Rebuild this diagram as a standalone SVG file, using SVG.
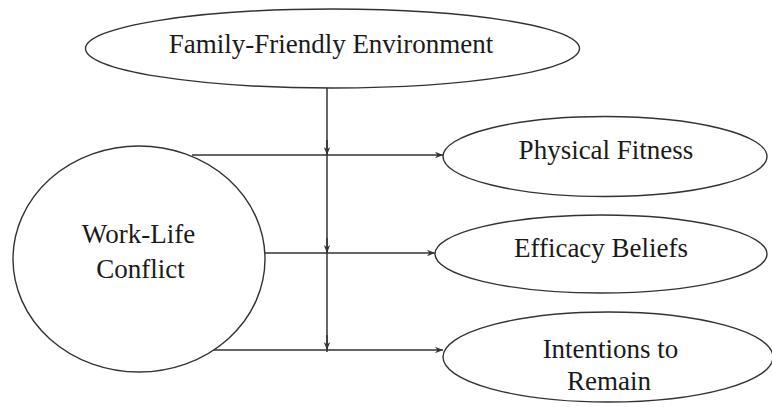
<svg xmlns="http://www.w3.org/2000/svg" width="772" height="407" viewBox="0 0 772 407">
<style>
.node{fill:#fff;stroke:#333;stroke-width:1.4}
.lbl{font-family:"Liberation Serif","Times New Roman",serif;font-size:27px;fill:#1a1a1a;text-anchor:middle}
.conn{stroke:#333;stroke-width:1.5;fill:none}
</style>
<defs>
<marker id="ah" viewBox="0 0 10 10" refX="10" refY="5" markerWidth="10" markerHeight="8" markerUnits="userSpaceOnUse" orient="auto">
<path d="M0,1 L10,5 L0,9 L3,5 Z" fill="#333"/>
</marker>
</defs>
<rect width="772" height="407" fill="#fff"/>
<g id="connectors">
<line class="conn" x1="327" y1="88" x2="327" y2="352"/>
<line class="conn" x1="327" y1="140" x2="327" y2="155" marker-end="url(#ah)"/>
<line class="conn" x1="327" y1="238" x2="327" y2="253" marker-end="url(#ah)"/>
<line class="conn" x1="327" y1="335" x2="327" y2="350" marker-end="url(#ah)"/>
<line class="conn" x1="192" y1="155" x2="443" y2="155" marker-end="url(#ah)"/>
<line class="conn" x1="265" y1="253" x2="435" y2="253" marker-end="url(#ah)"/>
<line class="conn" x1="213" y1="350" x2="443" y2="350" marker-end="url(#ah)"/>
</g>
<g id="family">
<ellipse class="node" cx="332.5" cy="48.5" rx="247" ry="39.5"/>
<text class="lbl" x="331" y="53">Family-Friendly Environment</text>
</g>
<g id="worklife">
<ellipse class="node" cx="139" cy="259" rx="126" ry="113"/>
<text class="lbl" x="138.5" y="243">Work-Life</text>
<text class="lbl" x="140.5" y="278">Conflict</text>
</g>
<g id="fitness">
<ellipse class="node" cx="605" cy="156.5" rx="162" ry="40"/>
<text class="lbl" x="606" y="159">Physical Fitness</text>
</g>
<g id="efficacy">
<ellipse class="node" cx="601" cy="254" rx="166" ry="39"/>
<text class="lbl" x="601" y="257">Efficacy Beliefs</text>
</g>
<g id="intentions">
<ellipse class="node" cx="608" cy="357" rx="165" ry="45"/>
<text class="lbl" x="610.5" y="358">Intentions to</text>
<text class="lbl" x="609" y="390">Remain</text>
</g>
</svg>
